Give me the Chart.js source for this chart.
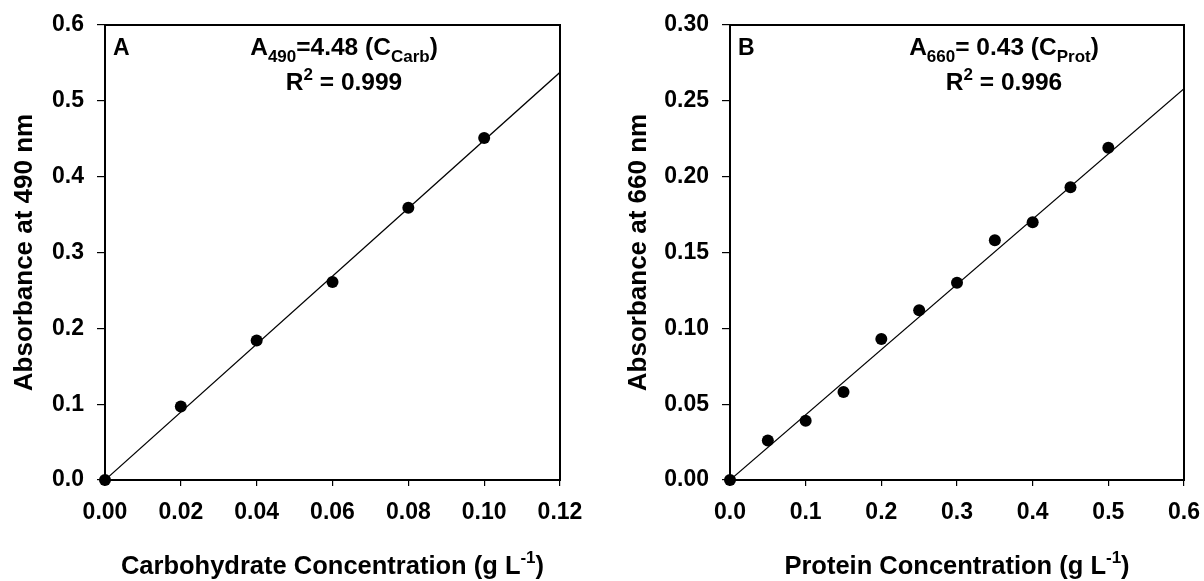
<!DOCTYPE html>
<html><head><meta charset="utf-8">
<script src="https://cdn.jsdelivr.net/npm/chart.js@4"></script>
<style>
html,body{margin:0;padding:0;background:#fff;}
#wrap{position:relative;width:1204px;height:581px;overflow:hidden;}
.panel{position:absolute;top:0;width:602px;height:581px;}
</style></head><body>
<div id="wrap">
<div class="panel" style="left:0"><canvas id="c1" width="602" height="581"></canvas></div>
<div class="panel" style="left:602px"><canvas id="c2" width="602" height="581"></canvas></div>
</div>
<script>
// ---- Panel A: carbohydrate ----
const carbConc = [0, 0.02, 0.04, 0.06, 0.08, 0.10];
const carbAbs = [0, 0.097, 0.184, 0.261, 0.359, 0.451];
const carbFitConc = [0, 0.12];
const carbFitAbs = [0, 0.5376];
const carbXTicks = [0, 0.02, 0.04, 0.06, 0.08, 0.10, 0.12];
const carbXLabels = ['0.00', '0.02', '0.04', '0.06', '0.08', '0.10', '0.12'];
const carbYTicks = [0, 0.1, 0.2, 0.3, 0.4, 0.5, 0.6];
const carbYLabels = ['0.0', '0.1', '0.2', '0.3', '0.4', '0.5', '0.6'];

// ---- Panel B: protein ----
const protConc = [0, 0.05, 0.10, 0.15, 0.20, 0.25, 0.30, 0.35, 0.40, 0.45, 0.50];
const protAbs = [0, 0.026, 0.039, 0.058, 0.093, 0.112, 0.130, 0.158, 0.170, 0.193, 0.219];
const protFitConc = [0, 0.6];
const protFitAbs = [0, 0.258];
const protXTicks = [0, 0.1, 0.2, 0.3, 0.4, 0.5, 0.6];
const protXLabels = ['0.0', '0.1', '0.2', '0.3', '0.4', '0.5', '0.6'];
const protYTicks = [0, 0.05, 0.10, 0.15, 0.20, 0.25, 0.30];
const protYLabels = ['0.00', '0.05', '0.10', '0.15', '0.20', '0.25', '0.30'];

const FAM = '"Liberation Sans", Arial, Helvetica, sans-serif';
const TICK_FONT = {family: FAM, size: 23, weight: 'bold'};

function drawRich(ctx, segs, x, y, size, align) {
  const fonts = {
    n: 'bold ' + size + 'px ' + FAM,
    sub: 'bold ' + Math.round(size * 0.68) + 'px ' + FAM,
    sup: 'bold ' + Math.round(size * 0.68) + 'px ' + FAM
  };
  const off = {n: 0, sub: size * 0.28, sup: -size * 0.42};
  let total = 0;
  segs.forEach(s => { ctx.font = fonts[s[1]]; total += ctx.measureText(s[0]).width; });
  let cx = align === 'left' ? x : x - total / 2;
  ctx.textAlign = 'left';
  ctx.textBaseline = 'alphabetic';
  ctx.fillStyle = '#000';
  segs.forEach(s => {
    ctx.font = fonts[s[1]];
    ctx.fillText(s[0], cx, y + off[s[1]]);
    cx += ctx.measureText(s[0]).width;
  });
}

function makeChart(id, cfg) {
  const boxPlugin = {
    id: 'box' + id,
    beforeDatasetsDraw(chart) {
      const a = chart.chartArea, c = chart.ctx;
      c.save();
      c.strokeStyle = '#000';
      c.lineWidth = 2;
      c.strokeRect(a.left, a.top, a.right - a.left, a.bottom - a.top);
      c.restore();
    },
    afterDraw(chart) {
      const a = chart.chartArea, c = chart.ctx;
      c.save();
      drawRich(c, [[cfg.letter, 'n']], a.left + 8, 55, 23, 'left');
      drawRich(c, cfg.eq, cfg.annX, 55, 24.5, 'center');
      drawRich(c, cfg.r2, cfg.annX, 90, 24.5, 'center');
      drawRich(c, cfg.xTitle, (a.left + a.right) / 2, 574, 25.5, 'center');
      c.translate(cfg.yTitleX, (a.top + a.bottom) / 2);
      c.rotate(-Math.PI / 2);
      drawRich(c, [[cfg.yTitle, 'n']], 0, 0, 26, 'center');
      c.restore();
    }
  };
  return new Chart(document.getElementById(id), {
    type: 'scatter',
    data: {
      datasets: [
        {
          data: cfg.fitX.map((v, i) => ({x: v, y: cfg.fitY[i]})),
          showLine: true, borderColor: '#000', borderWidth: 1.2,
          pointRadius: 0, fill: false, order: 2
        },
        {
          data: cfg.x.map((v, i) => ({x: v, y: cfg.y[i]})),
          backgroundColor: '#000', borderColor: '#000',
          pointRadius: 6, pointBorderWidth: 0, clip: false, order: 1
        }
      ]
    },
    options: {
      responsive: false, animation: false, devicePixelRatio: 1,
      layout: {padding: {top: 25, right: cfg.padRight, bottom: 0, left: 0}},
      plugins: {legend: {display: false}, tooltip: {enabled: false}},
      scales: {
        x: {
          type: 'linear', min: 0, max: cfg.xTicks[cfg.xTicks.length - 1],
          afterBuildTicks: s => { s.ticks = cfg.xTicks.map(v => ({value: v})); },
          afterFit: s => { s.height = 101; s.paddingRight = 0; s.paddingLeft = 0; },
          grid: {drawOnChartArea: false, drawTicks: true, tickLength: 6, color: '#000', lineWidth: 1.2},
          border: {display: false},
          ticks: {font: TICK_FONT, color: '#000', padding: 13, maxRotation: 0, autoSkip: false,
                  callback: (v, i) => cfg.xLabels[i]}
        },
        y: {
          type: 'linear', min: 0, max: cfg.yTicks[cfg.yTicks.length - 1],
          afterBuildTicks: s => { s.ticks = cfg.yTicks.map(v => ({value: v})); },
          afterFit: s => { s.width = cfg.yWidth; s.paddingTop = 0; s.paddingBottom = 0; },
          grid: {drawOnChartArea: false, drawTicks: true, tickLength: 8, color: '#000', lineWidth: 1.2},
          border: {display: false},
          ticks: {font: TICK_FONT, color: '#000', padding: 13, autoSkip: false,
                  callback: (v, i) => cfg.yLabels[i]}
        }
      }
    },
    plugins: [boxPlugin]
  });
}

makeChart('c1', {
  x: carbConc, y: carbAbs, fitX: carbFitConc, fitY: carbFitAbs,
  xTicks: carbXTicks, xLabels: carbXLabels, yTicks: carbYTicks, yLabels: carbYLabels,
  yWidth: 105, padRight: 42, letter: 'A', annX: 344, yTitleX: 32,
  eq: [['A', 'n'], ['490', 'sub'], ['=4.48 (C', 'n'], ['Carb', 'sub'], [')', 'n']],
  r2: [['R', 'n'], ['2', 'sup'], [' = 0.999', 'n']],
  xTitle: [['Carbohydrate Concentration (g L', 'n'], ['-1', 'sup'], [')', 'n']],
  yTitle: 'Absorbance at 490 nm'
});
makeChart('c2', {
  x: protConc, y: protAbs, fitX: protFitConc, fitY: protFitAbs,
  xTicks: protXTicks, xLabels: protXLabels, yTicks: protYTicks, yLabels: protYLabels,
  yWidth: 128, padRight: 20, letter: 'B', annX: 402, yTitleX: 44,
  eq: [['A', 'n'], ['660', 'sub'], ['= 0.43 (C', 'n'], ['Prot', 'sub'], [')', 'n']],
  r2: [['R', 'n'], ['2', 'sup'], [' = 0.996', 'n']],
  xTitle: [['Protein Concentration (g L', 'n'], ['-1', 'sup'], [')', 'n']],
  yTitle: 'Absorbance at 660 nm'
});
</script>
</body></html>
